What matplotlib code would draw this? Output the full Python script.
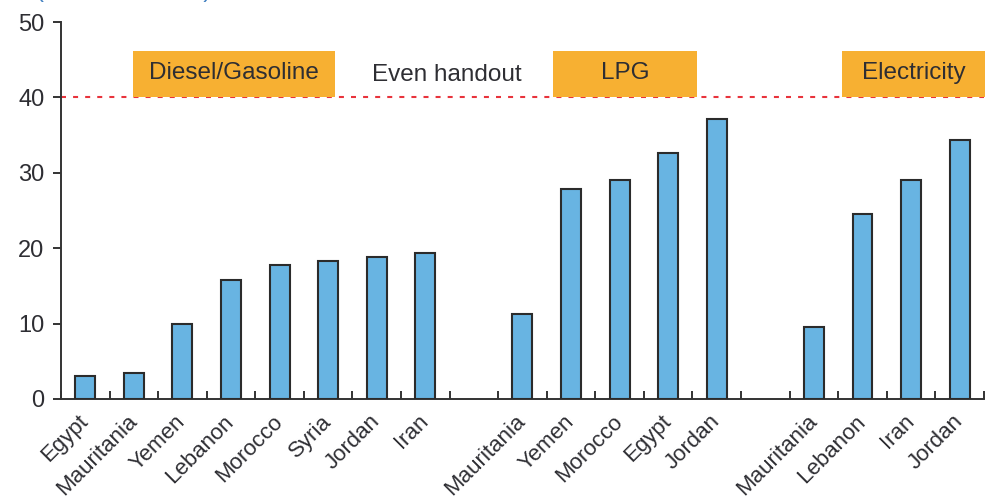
import matplotlib.pyplot as plt
from matplotlib.patches import Rectangle
import numpy as np

plt.rcParams['font.family'] = ['Liberation Sans', 'DejaVu Sans']

# Share of subsidy benefits going to the richest quintile, by product
fuel_countries = ['Egypt', 'Mauritania', 'Yemen', 'Lebanon', 'Morocco', 'Syria', 'Jordan', 'Iran']
fuel_values = [3.0, 3.5, 10.0, 15.8, 17.8, 18.3, 18.8, 19.3]

lpg_countries = ['Mauritania', 'Yemen', 'Morocco', 'Egypt', 'Jordan']
lpg_values = [11.3, 27.9, 29.1, 32.6, 37.1]

elec_countries = ['Mauritania', 'Lebanon', 'Iran', 'Jordan']
elec_values = [9.6, 24.6, 29.1, 34.4]

group_names = ['Diesel/Gasoline', 'LPG', 'Electricity']
even_handout = 40

bar_color = '#68b4e2'
box_color = '#f7b032'
text_color = '#2e2e33'

# one empty slot between product groups
groups = [(fuel_countries, fuel_values), (lpg_countries, lpg_values), (elec_countries, elec_values)]
labels, values, slots = [], [], []
pos = 0
for names, vals in groups:
    for n, v in zip(names, vals):
        labels.append(n)
        values.append(v)
        slots.append(pos)
        pos += 1
    pos += 1
n_slots = pos - 1
centers = np.array(slots) + 0.5

fig = plt.figure(figsize=(9.88, 4.98), dpi=100)
ax = fig.add_axes([0.0617, 0.1988, 0.9342, 0.757])

ax.bar(centers, values, width=0.41, color=bar_color, edgecolor='#2b2b2b', linewidth=1.5, zorder=3)

# even handout reference line
ax.axhline(even_handout, color='#e8333c', linewidth=1.5, dashes=(2.4, 3.4), zorder=1)
ax.text(7.95, 43.0, 'Even handout', ha='center', va='center', fontsize=17.5, color=text_color)

# product group boxes
boxes = [(1.48, 5.64), (10.13, 13.09), (16.08, 19.02)]
for name, (x0, x1) in zip(group_names, boxes):
    ax.add_patch(Rectangle((x0, even_handout), x1 - x0, 6.2, facecolor=box_color,
                           edgecolor='none', zorder=2, clip_on=False))
    ax.text((x0 + x1) / 2, even_handout + 3.2, name, ha='center', va='center',
            fontsize=17.5, color=text_color, zorder=4)

ax.set_xlim(0, n_slots)
ax.set_ylim(0, 50)
ax.set_yticks(range(0, 51, 10))
ax.set_xticks(range(0, n_slots + 1))
ax.set_xticklabels([])
ax.set_xticks(centers, labels, minor=True)
for lab in ax.get_xticklabels(minor=True):
    lab.set_rotation(45)
    lab.set_ha('right')
    lab.set_va('center')
    lab.set_rotation_mode('anchor')

ax.tick_params(axis='x', which='major', direction='in', length=6, width=1.4, color='#333333')
ax.tick_params(axis='x', which='minor', length=0, pad=14, labelsize=16, labelcolor=text_color)
ax.tick_params(axis='y', direction='out', length=6, width=1.4, color='#333333',
               labelsize=17, labelcolor=text_color, pad=6)

for side in ['top', 'right']:
    ax.spines[side].set_visible(False)
for side in ['left', 'bottom']:
    ax.spines[side].set_linewidth(1.4)
    ax.spines[side].set_color('#333333')

fig.text(0.036, 1.006, '(Percent of total)', fontsize=17, color='#3f7fc0', va='baseline')

fig.savefig('out.png', dpi=100)
